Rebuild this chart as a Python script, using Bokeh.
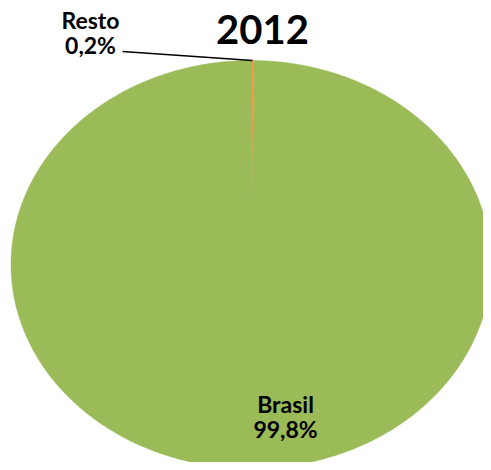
import numpy as np
from bokeh.plotting import figure
from bokeh.models import Range1d, Label, ColumnDataSource
from bokeh.embed import file_html
from bokeh.resources import INLINE

# Data
categories = ["Resto", "Brasil"]
shares = [0.2, 99.8]
pct_labels = ["0,2%", "99,8%"]
colors = ["#F79646", "#9BBB59"]
title_text = "2012"

W, H = 483, 462
cx_px, cy_px = 250.5, 264.0   # ellipse centre in canvas px (from top-left)
rx_px, ry_px = 240.0, 204.0

p = figure(width=W, height=H, output_backend="svg", toolbar_location=None,
           min_border=0, outline_line_color=None, background_fill_color="white",
           border_fill_color="white")
p.x_range = Range1d(-cx_px / rx_px, (W - cx_px) / rx_px)
p.y_range = Range1d(-(H - cy_px) / ry_px, cy_px / ry_px)
p.axis.visible = False
p.grid.visible = False

# slices: start at 12 o'clock, go clockwise
frac = np.array(shares) / np.sum(shares)
ends = np.cumsum(frac)
starts = ends - frac
xs, ys = [], []
for s, e in zip(starts, ends):
    n = max(3, int(np.ceil((e - s) * 720)))
    t = np.linspace(s, e, n)
    ang = np.pi / 2 - 2 * np.pi * t
    xs.append(np.concatenate([[0.0], np.cos(ang), [0.0]]))
    ys.append(np.concatenate([[0.0], np.sin(ang), [0.0]]))
src = ColumnDataSource(dict(xs=xs, ys=ys, color=colors, name=categories))
p.patches("xs", "ys", fill_color="color", line_color="color", line_width=0.5, source=src)

# leader line for Resto
mid = np.pi / 2 - 2 * np.pi * (starts[0] + ends[0]) / 2
ex, ey = np.cos(mid), np.sin(mid)
sx = (122 - cx_px) / rx_px
sy = (cy_px - 51) / ry_px
p.segment(x0=[sx], y0=[sy], x1=[ex], y1=[ey], line_color="black", line_width=1.5)

font = "Lato"
def lab(x, y, txt, size):
    p.add_layout(Label(x=x, y=y, x_units="screen", y_units="screen", text=txt,
                       text_font=font, text_font_style="bold", text_font_size=size,
                       text_color="black", text_align="center", text_baseline="middle"))

lab(262, H - 29, title_text, "40px")
lab(90, H - 19, categories[0], "23px")
lab(90, H - 44, pct_labels[0], "23px")
lab(285, H - 403, categories[1], "23px")
lab(285, H - 428, pct_labels[1], "23px")

open("out.html", "w").write(file_html(p, INLINE))
